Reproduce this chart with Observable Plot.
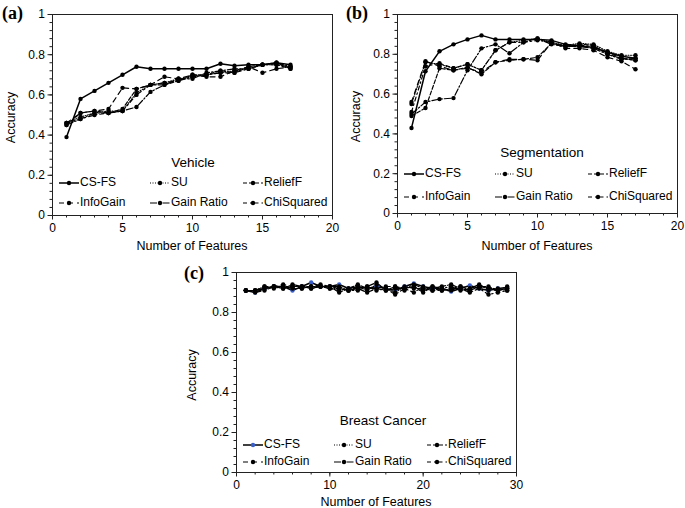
<!DOCTYPE html>
<html><head><meta charset="utf-8">
<script src="https://cdn.jsdelivr.net/npm/d3@7"></script>
<script src="https://cdn.jsdelivr.net/npm/@observablehq/plot@0.6"></script>
<style>
body{margin:0;background:#fff;}
#root{position:relative;width:685px;height:508px;overflow:hidden;font-family:"Liberation Sans",Arial,Helvetica,sans-serif;}
#root svg, #root svg text{font-family:"Liberation Sans",Arial,Helvetica,sans-serif !important;}
.plabel{position:absolute;font-family:"Liberation Serif","Times New Roman",serif;font-weight:bold;font-size:18px;line-height:18px;}
</style></head><body><div id="root"></div>
<script>
const methods = ["CS-FS","SU","ReliefF","InfoGain","Gain Ratio","ChiSquared"];

// (a) Vehicle
const vehicleFeatures = [1,2,3,4,5,6,7,8,9,10,11,12,13,14,15,16,17];
const vehicleCSFS      = [0.39,0.58,0.62,0.66,0.70,0.74,0.73,0.73,0.73,0.73,0.73,0.755,0.745,0.75,0.75,0.76,0.75];
const vehicleSU        = [0.46,0.49,0.51,0.52,0.52,0.61,0.65,0.66,0.68,0.69,0.70,0.71,0.72,0.73,0.75,0.75,0.74];
const vehicleReliefF   = [0.45,0.51,0.52,0.51,0.53,0.63,0.65,0.65,0.67,0.70,0.70,0.72,0.71,0.74,0.75,0.76,0.73];
const vehicleInfoGain  = [0.46,0.51,0.52,0.53,0.635,0.63,0.65,0.69,0.68,0.70,0.69,0.69,0.72,0.74,0.71,0.73,0.74];
const vehicleGainRatio = [0.45,0.48,0.51,0.51,0.52,0.54,0.615,0.65,0.68,0.68,0.71,0.72,0.73,0.73,0.75,0.76,0.74];
const vehicleChiSq     = [0.46,0.48,0.50,0.51,0.52,0.60,0.65,0.66,0.67,0.69,0.70,0.71,0.71,0.73,0.75,0.75,0.73];

// (b) Segmentation
const segFeatures = [1,2,3,4,5,6,7,8,9,10,11,12,13,14,15,16,17];
const segCSFS      = [0.43,0.715,0.815,0.85,0.875,0.895,0.875,0.875,0.875,0.875,0.87,0.85,0.84,0.835,0.81,0.79,0.78];
const segSU        = [0.55,0.76,0.75,0.73,0.75,0.72,0.82,0.86,0.87,0.88,0.86,0.845,0.855,0.85,0.815,0.795,0.795];
const segReliefF   = [0.49,0.53,0.73,0.72,0.735,0.70,0.76,0.77,0.775,0.785,0.855,0.84,0.85,0.845,0.80,0.78,0.77];
const segInfoGain  = [0.56,0.765,0.74,0.72,0.73,0.71,0.76,0.775,0.775,0.77,0.86,0.83,0.83,0.82,0.785,0.765,0.725];
const segGainRatio = [0.50,0.56,0.575,0.58,0.72,0.83,0.85,0.805,0.86,0.88,0.85,0.84,0.84,0.83,0.80,0.775,0.78];
const segChiSq     = [0.51,0.74,0.755,0.73,0.75,0.72,0.82,0.86,0.86,0.87,0.86,0.84,0.845,0.84,0.81,0.78,0.77];

// (c) Breast Cancer
const bcFeatures = [1,2,3,4,5,6,7,8,9,10,11,12,13,14,15,16,17,18,19,20,21,22,23,24,25,26,27,28,29];
const bcCSFS      = [0.91,0.90,0.92,0.93,0.93,0.91,0.93,0.95,0.93,0.93,0.94,0.92,0.93,0.92,0.93,0.92,0.91,0.93,0.945,0.93,0.92,0.92,0.905,0.92,0.935,0.92,0.91,0.92,0.925];
const bcSU        = [0.91,0.91,0.93,0.92,0.93,0.92,0.92,0.93,0.93,0.92,0.92,0.91,0.93,0.91,0.94,0.92,0.90,0.93,0.92,0.92,0.93,0.91,0.92,0.93,0.91,0.93,0.92,0.92,0.91];
const bcReliefF   = [0.91,0.91,0.92,0.93,0.92,0.93,0.93,0.92,0.93,0.93,0.90,0.92,0.94,0.92,0.92,0.91,0.93,0.92,0.93,0.91,0.92,0.93,0.94,0.92,0.91,0.93,0.93,0.91,0.92];
const bcInfoGain  = [0.91,0.91,0.93,0.93,0.94,0.93,0.92,0.93,0.94,0.93,0.92,0.91,0.92,0.90,0.92,0.93,0.93,0.91,0.93,0.90,0.93,0.92,0.91,0.93,0.92,0.93,0.91,0.91,0.93];
const bcGainRatio = [0.91,0.91,0.92,0.93,0.92,0.94,0.93,0.93,0.93,0.93,0.93,0.91,0.91,0.93,0.95,0.91,0.92,0.92,0.94,0.92,0.91,0.92,0.93,0.91,0.92,0.94,0.92,0.91,0.92];
const bcChiSq     = [0.91,0.90,0.91,0.93,0.93,0.93,0.93,0.92,0.93,0.92,0.91,0.92,0.92,0.93,0.91,0.92,0.89,0.92,0.90,0.93,0.91,0.91,0.92,0.92,0.90,0.92,0.89,0.90,0.91];

const yTickValues = [0,0.2,0.4,0.6,0.8,1];
const xTicksAB = [0,5,10,15,20];
const xTicksC = [0,10,20,30];

// styles (kept apart from data)
const dash = {"CS-FS":null,"SU":"1,1.5","ReliefF":"4,2","InfoGain":"5,4","Gain Ratio":"7,2,1.5,2","ChiSquared":"4,3,1.5,3"};
const widthOf = {"CS-FS":1.5,"SU":1.1,"ReliefF":1.2,"InfoGain":1.2,"Gain Ratio":1.2,"ChiSquared":1.2};
const FONT = '"Liberation Sans", Arial, Helvetica, sans-serif';

function rows(xs, arrays){
  const out = [];
  methods.forEach((m,i)=> xs.forEach((x,j)=> out.push({method:m, x, y: arrays[i][j]})));
  return out;
}

const fmt = d => (d===0||d===1) ? String(d) : d.toFixed(1);
const root = document.getElementById("root");

function makePanel(cfg){
  const data = rows(cfg.xs, cfg.arrays);
  const marks = [
    Plot.frame({stroke:"#222", strokeWidth:1}),
    Plot.axisY(d3.range(0,1.0001,0.04), {tickSize:2.5, tickFormat:()=>"", label:null, stroke:"#222"}),
    Plot.axisY(yTickValues, {tickSize:4.5, tickPadding:3, tickFormat:fmt, label:null, fontSize:12, stroke:"#222"}),
    Plot.axisX(d3.range(0,cfg.xMax+0.001,cfg.xMinor), {tickSize:2.5, tickFormat:()=>"", label:null, stroke:"#222"}),
    Plot.axisX(cfg.xTicks, {tickSize:4.5, tickPadding:3, tickFormat:d=>String(d), label:null, fontSize:12, stroke:"#222"})
  ];
  methods.forEach(m=>{
    const sub = data.filter(d=>d.method===m);
    marks.push(Plot.line(sub, {x:"x", y:"y", stroke:"#000", strokeWidth:widthOf[m], strokeDasharray:dash[m]}));
  });
  methods.forEach(m=>{
    const sub = data.filter(d=>d.method===m);
    const fill = (cfg.blueFirst && m==="CS-FS") ? "#3a5fc8" : "#000";
    marks.push(Plot.dot(sub, {x:"x", y:"y", r:2.2, fill, stroke:"none"}));
  });
  const svg = Plot.plot({
    width: cfg.width, height: cfg.height,
    marginTop: cfg.mT, marginRight: cfg.mR, marginBottom: cfg.mB, marginLeft: cfg.mL,
    x: {domain:[0,cfg.xMax]},
    y: {domain:[0,1]},
    style: {fontFamily:FONT, fontSize:"12px", color:"#000", background:"#fff", overflow:"visible"},
    marks
  });
  const s = d3.select(svg);
  const fx0 = cfg.mL, fx1 = cfg.width - cfg.mR, fy0 = cfg.mT, fy1 = cfg.height - cfg.mB;
  const txt = () => s.append("text").attr("font-family",FONT).attr("fill","#000").attr("dominant-baseline","middle");
  // axis labels
  txt().attr("x",(fx0+fx1)/2).attr("y",cfg.xLabelY).attr("text-anchor","middle")
    .attr("font-size","12.5px").text("Number of Features");
  txt().attr("transform",`translate(${cfg.yLabelX},${(fy0+fy1)/2+3}) rotate(-90)`).attr("text-anchor","middle")
    .attr("font-size","12.5px").text("Accuracy");
  // title
  txt().attr("x",cfg.titleX).attr("y",cfg.titleY).attr("text-anchor","middle")
    .attr("font-size","13.5px").text(cfg.title);
  // legend
  const colOff = [7,98,191];
  methods.forEach((m,i)=>{
    const col = i%3, row = Math.floor(i/3);
    const lx = fx0 + colOff[col], ly = cfg.legendY[row];
    s.append("line").attr("x1",lx).attr("x2",lx+20).attr("y1",ly).attr("y2",ly)
      .attr("stroke","#000").attr("stroke-width",widthOf[m]).attr("stroke-dasharray",dash[m]);
    s.append("circle").attr("cx",lx+10).attr("cy",ly).attr("r",2.2)
      .attr("fill",(cfg.blueFirst && m==="CS-FS") ? "#3a5fc8" : "#000");
    txt().attr("x",lx+21).attr("y",ly).attr("text-anchor","start")
      .attr("font-size","12px").text(m);
  });
  svg.style.left = cfg.left+"px";
  svg.style.top = cfg.top+"px";
  svg.style.position = "absolute";
  root.appendChild(svg);
  const lab = document.createElement("div");
  lab.className = "plabel";
  lab.style.left = cfg.labelPos[0]+"px";
  lab.style.top = cfg.labelPos[1]+"px";
  lab.textContent = cfg.label;
  root.appendChild(lab);
}

makePanel({label:"(a)", labelPos:[2,4], title:"Vehicle", xs:vehicleFeatures,
  arrays:[vehicleCSFS,vehicleSU,vehicleReliefF,vehicleInfoGain,vehicleGainRatio,vehicleChiSq],
  xMax:20, xTicks:xTicksAB, xMinor:1,
  left:0, top:0, width:340, height:258, mT:14, mR:8, mB:43, mL:52,
  xLabelY:247, yLabelX:12, titleX:193, titleY:163, legendY:[183,203]});

makePanel({label:"(b)", labelPos:[346,4], title:"Segmentation", xs:segFeatures,
  arrays:[segCSFS,segSU,segReliefF,segInfoGain,segGainRatio,segChiSq],
  xMax:20, xTicks:xTicksAB, xMinor:1,
  left:345, top:0, width:340, height:258, mT:14, mR:8, mB:45, mL:52,
  xLabelY:247, yLabelX:12, titleX:197, titleY:153, legendY:[174,197]});

makePanel({label:"(c)", labelPos:[184,264], title:"Breast Cancer", xs:bcFeatures,
  arrays:[bcCSFS,bcSU,bcReliefF,bcInfoGain,bcGainRatio,bcChiSq],
  xMax:30, xTicks:xTicksC, xMinor:2, blueFirst:true,
  left:150, top:258, width:380, height:250, mT:14, mR:14, mB:36, mL:86,
  xLabelY:245, yLabelX:43, titleX:233, titleY:163, legendY:[187,204]});
</script></body></html>
